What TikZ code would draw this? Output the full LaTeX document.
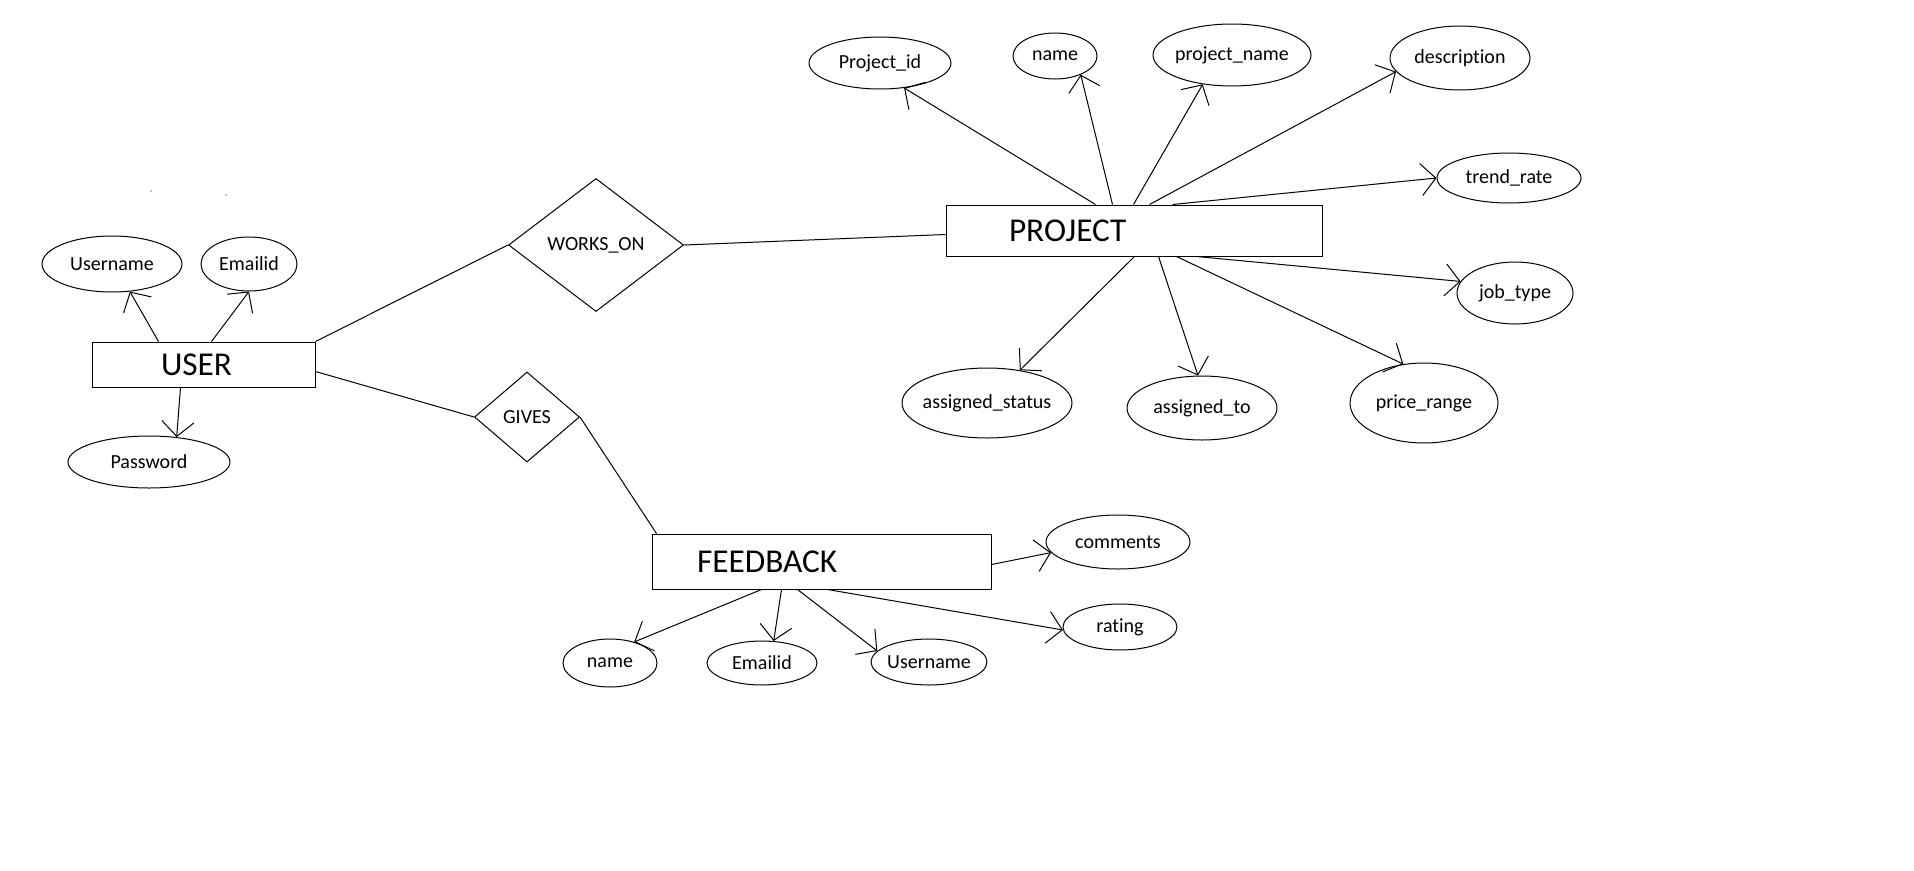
\documentclass[tikz,border=0pt]{standalone}
\usepackage{fontspec}
\setmainfont{Carlito}[Ligatures={NoCommon}]
\usetikzlibrary{shapes.geometric,arrows.meta}
\newcommand\attrtext[1]{\makebox[0pt]{#1}}
\begin{document}
\begin{tikzpicture}[x=0.75pt,y=-0.75pt,line width=0.75pt,
  entity/.style={draw,rectangle,inner ysep=0pt,align=left,font=\fontsize{25}{28}\selectfont},
  rel/.style={draw,diamond,inner sep=0pt,font=\fontsize{15}{18}\selectfont},
  attr/.style={draw,ellipse,inner sep=0pt,font=\fontsize{15}{18}\selectfont},
  conn/.style={draw},
  arr/.style={draw,-{Straight Barb[length=11pt,width=24pt]}}]
\useasboundingbox (0,0) rectangle (1914,871);
% stray dots
\fill (151,191) circle[radius=0.6];
\fill (226,195) circle[radius=0.6];
% entities
\node[entity,minimum width=167.25pt,minimum height=33.75pt,inner xsep=51.75pt,text width=63.75pt] (user) at (203.5,364.5) {USER};
\node[entity,minimum width=282pt,minimum height=38.25pt,inner xsep=47.25pt,text width=187.5pt] (project) at (1134,230.5) {PROJECT};
\node[entity,minimum width=254.25pt,minimum height=41.25pt,inner xsep=33.75pt,text width=186.75pt] (feedback) at (821.5,561.5) {FEEDBACK};
% relationships
\node[rel,minimum width=131.25pt,minimum height=99.75pt] (workson) at (596,245) {WORKS\_ON};
\node[rel,aspect=1.17,minimum width=78.75pt,minimum height=67.5pt] (gives) at (527,417) {GIVES};
% user attributes
\node[attr,minimum width=105pt,minimum height=42pt] (uname) at (112,264) {\attrtext{Username}};
\node[attr,minimum width=72pt,minimum height=40.5pt] (uemail) at (249,264) {\attrtext{Emailid}};
\node[attr,minimum width=121.5pt,minimum height=39pt] (upass) at (149,462) {\attrtext{Password}};
% project attributes
\node[attr,minimum width=106.5pt,minimum height=39pt] (pid) at (880,63) {\attrtext{Project\_id}};
\node[attr,minimum width=63pt,minimum height=34.5pt] (pname) at (1055,56) {\attrtext{name}};
\node[attr,minimum width=118.5pt,minimum height=46.5pt] (pproj) at (1232,55) {\attrtext{project\_name}};
\node[attr,minimum width=105pt,minimum height=48pt] (pdesc) at (1460,58) {\attrtext{description}};
\node[attr,minimum width=108pt,minimum height=37.5pt] (ptrend) at (1509,178) {\attrtext{trend\_rate}};
\node[attr,minimum width=87pt,minimum height=46.5pt] (pjob) at (1515,293) {\attrtext{job\_type}};
\node[attr,minimum width=127.5pt,minimum height=52.5pt] (pstatus) at (987,403) {\attrtext{assigned\_status}};
\node[attr,minimum width=112.5pt,minimum height=48pt] (pto) at (1202,408) {\attrtext{assigned\_to}};
\node[attr,minimum width=111pt,minimum height=60pt] (pprice) at (1424,403) {\attrtext{price\_range}};
% feedback attributes
\node[attr,minimum width=108pt,minimum height=40.5pt] (fcomm) at (1118,542) {\attrtext{comments}};
\node[attr,minimum width=85.5pt,minimum height=34.5pt] (frate) at (1120,627) {\attrtext{rating}};
\node[attr,minimum width=70.5pt,minimum height=36pt] (fname) at (610,663) {\attrtext{name}};
\node[attr,minimum width=82.5pt,minimum height=33pt] (femail) at (762,663) {\attrtext{Emailid}};
\node[attr,minimum width=87pt,minimum height=34.5pt] (fuser) at (929,662) {\attrtext{Username}};
% relationship lines
\draw[conn] (user.north east) -- (workson.west);
\draw[conn] (workson.east) -- ([yshift=-22.5pt]project.north west);
\draw[conn] ([yshift=-22.5pt]user.north east) -- (gives.west);
\draw[conn] (gives.east) -- ([xshift=3.75pt]feedback.north west);
% user attribute arrows
\draw[arr] ([xshift=50.25pt]user.north west) -- (uname.-57.3);
\draw[arr] ([xshift=90pt]user.north west) -- (uemail.-90);
\draw[arr] ([xshift=66.75pt]user.south west) -- (upass.42.8);
% project attribute arrows
\draw[arr] ([xshift=112.5pt]project.north west) -- (pid.-46.2);
\draw[arr] ([xshift=125.25pt]project.north west) -- (pname.-36.2);
\draw[arr] ([xshift=141pt]project.north west) -- (pproj.-135);
\draw[arr] ([xshift=153pt]project.north west) -- (pdesc.-168.3);
\draw[arr] ([xshift=170.25pt]project.north west) -- (ptrend.180);
\draw[arr] ([xshift=188.25pt]project.south west) -- (pjob.168.7);
\draw[arr] ([xshift=173.25pt]project.south west) -- (pprice.118.9);
\draw[arr] ([xshift=159.75pt]project.south west) -- (pto.97.4);
\draw[arr] ([xshift=141.75pt]project.south west) -- (pstatus.45.9);
% feedback attribute arrows
\draw[arr] ([xshift=82.5pt]feedback.south west) -- (fname.41);
\draw[arr] ([xshift=97.5pt]feedback.south west) -- (femail.62.4);
\draw[arr] ([xshift=109.5pt]feedback.south west) -- (fuser.168.9);
\draw[arr] ([xshift=132pt]feedback.south west) -- (frate.183.2);
\draw[arr] ([yshift=-23.25pt]feedback.north east) -- (fcomm.189.6);
\end{tikzpicture}
\end{document}
